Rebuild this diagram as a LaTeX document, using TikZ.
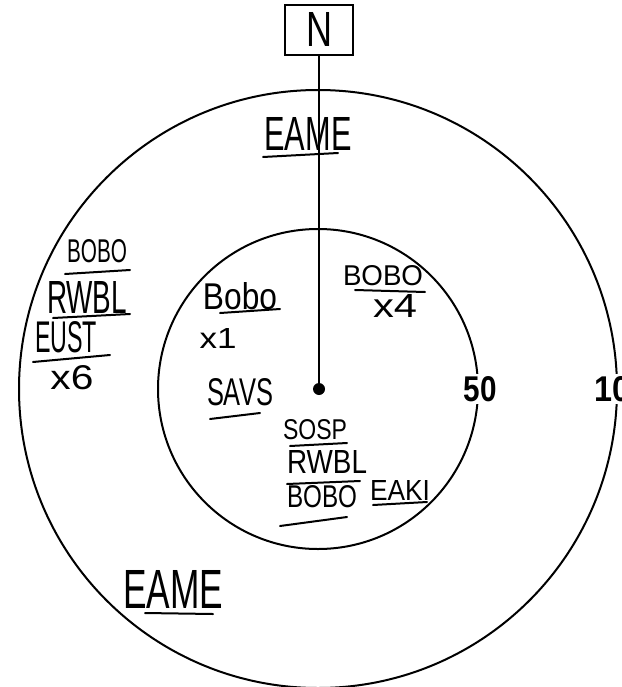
\documentclass[tikz,border=0pt]{standalone}
\usepackage{fontspec}
\usepackage{graphicx}
\setmainfont{Liberation Sans}
\begin{document}
\begin{tikzpicture}[x=1pt,y=-1pt,
  ring/.style={line width=2pt},
  hw/.style={inner sep=0pt, font=\fontsize{20}{20}\selectfont},
  ul/.style={line width=2pt, line cap=round},
  num/.style={inner sep=2pt, fill=white, font=\bfseries\fontsize{20}{20}\selectfont}]
\useasboundingbox (0,0) rectangle (621,687);
\clip (0,0) rectangle (621,687);
% rings
\draw[ring] (318,389) circle (299);
\draw[ring] (318,389) circle (160);
% distance labels
\node[num] (d50) at (480,389) {\resizebox{33pt}{25pt}{50}};
\node[num] (d10) at (612,389) {\resizebox{36pt}{25pt}{10}};
% north box and pointer
\node[draw, line width=2pt, minimum width=68pt, minimum height=50pt, inner sep=0pt] (N) at (319,30) {\resizebox{26pt}{34pt}{N}};
\fill (319,389) circle (6);
\coordinate (c) at (319,389);
\draw[line width=2.4pt] (N.south) -- (c);
% labels
\node[hw] (l1) at (308,134) {\resizebox{87pt}{33pt}{EAME}};
\draw[ul] (263,157) -- (338,153);
\node[hw] (l2) at (97,251) {\resizebox{60pt}{23pt}{BOBO}};
\draw[ul] (65,274) -- (130,270);
\node[hw] (l3) at (87,297) {\resizebox{80pt}{32pt}{RWBL}};
\draw[ul] (53,318) -- (130,314);
\node[hw] (l4) at (66,337) {\resizebox{62pt}{31pt}{EUST}};
\draw[ul] (33,362) -- (110,355);
\node[hw] (l5) at (72,378) {\resizebox{43pt}{24pt}{x6}};
\node[hw] (l6) at (240,296) {\resizebox{74pt}{27pt}{Bobo}};
\draw[ul] (220,313) -- (280,309);
\node[hw] (l7) at (218,338) {\resizebox{37pt}{20pt}{x1}};
\node[hw] (l8) at (383,276) {\resizebox{80pt}{20pt}{BOBO}};
\draw[ul] (355,290) -- (425,292);
\node[hw] (l9) at (395,306) {\resizebox{44pt}{23pt}{x4}};
\node[hw] (l10) at (240,392) {\resizebox{66pt}{27pt}{SAVS}};
\draw[ul] (210,419) -- (260,413);
\node[hw] (l11) at (315,430) {\resizebox{64pt}{20pt}{SOSP}};
\draw[ul] (290,446) -- (347,443);
\node[hw] (l12) at (327,462) {\resizebox{80pt}{23pt}{RWBL}};
\draw[ul] (287,484) -- (360,481);
\node[hw] (l13) at (322,497) {\resizebox{70pt}{22pt}{BOBO}};
\draw[ul] (280,526) -- (347,517);
\node[hw] (l14) at (400,490) {\resizebox{60pt}{20pt}{EAKI}};
\draw[ul] (373,505) -- (427,502);
\node[hw] (l15) at (173,589) {\resizebox{100pt}{38pt}{EAME}};
\draw[ul] (145,613) -- (213,614);
\end{tikzpicture}
\end{document}
